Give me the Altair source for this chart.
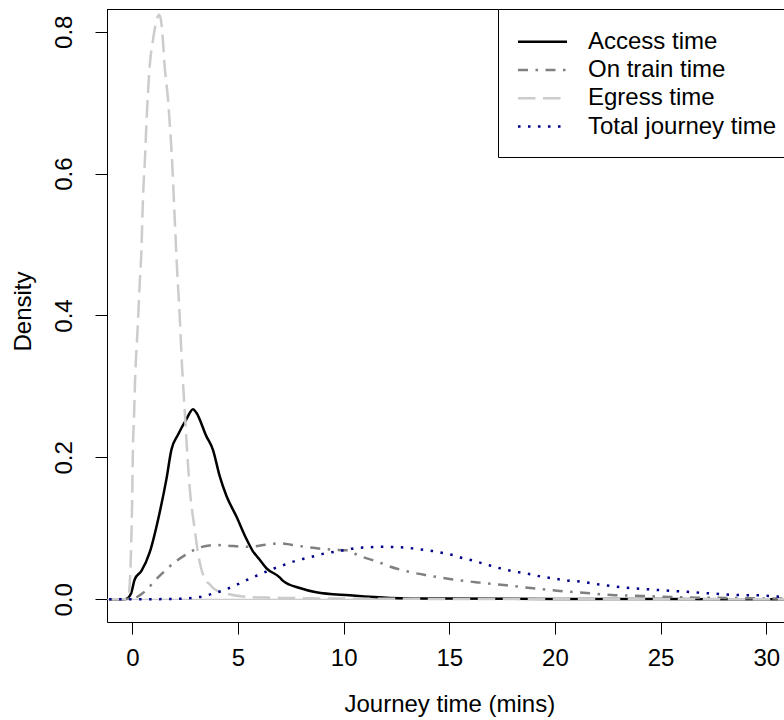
import altair as alt
import pandas as pd

# ---- data (density curves) ----
access_x = [-1.1, -0.36, -0.2, -0.05, 0.11, 0.43, 0.82, 1.29, 1.61, 1.85, 2.16, 2.56, 2.87, 3.03,
            3.5, 3.81, 4.13, 4.45, 4.92, 5.4, 5.7, 6.02, 6.34, 6.97, 7.13, 7.92, 8.7, 10.28, 12.2,
            15.0, 20.0, 25.0, 31.0]
access_y = [0.0, 0.0, 0.002, 0.009, 0.028, 0.04, 0.066, 0.122, 0.169, 0.211, 0.232, 0.254, 0.268, 0.263,
            0.23, 0.211, 0.174, 0.146, 0.117, 0.085, 0.068, 0.056, 0.044, 0.031, 0.026, 0.016, 0.010, 0.0056, 0.002,
            0.001, 0.0005, 0.0003, 0.0002]

train_x = [-1.1, -0.3, 0.11, 0.5, 1.29, 2.08, 2.71, 3.18, 3.98, 4.76, 5.55, 6.34, 6.97, 7.5, 8.39,
           9.49, 10.13, 10.76, 11.7, 12.02, 12.65, 13.28, 13.91, 15.17, 16.44, 17.7, 18.96, 20.22,
           21.49, 22.7, 24.15, 25.4, 26.7, 28.1, 29.4, 31.0]
train_y = [0.0, 0.0005, 0.002, 0.009, 0.033, 0.054, 0.066, 0.073, 0.0765, 0.075, 0.074, 0.077, 0.079, 0.077, 0.073,
           0.070, 0.069, 0.061, 0.052, 0.048, 0.042, 0.0375, 0.034, 0.028, 0.0235, 0.0197, 0.0155, 0.0117,
           0.0089, 0.006, 0.0047, 0.0033, 0.0023, 0.0019, 0.0014, 0.001]

egress_x = [-1.1, -0.3, -0.2, -0.13, -0.08, -0.02, 0.03, 0.08, 0.13, 0.24, 0.35, 0.43, 0.5, 0.61, 0.66,
            0.74, 0.82, 0.98, 1.1, 1.26, 1.35, 1.42, 1.53, 1.69, 1.8, 1.86, 2.0, 2.11, 2.24, 2.35, 2.45,
            2.6, 2.72, 2.85, 2.95, 3.1, 3.27, 3.5, 3.66, 3.9, 4.45, 5.23, 6.34, 7.13, 10.0, 20.0, 31.0]
egress_y = [0.0, 0.0, 0.002, 0.019, 0.052, 0.122, 0.216, 0.258, 0.31, 0.376, 0.446, 0.493, 0.563, 0.629, 0.667,
            0.714, 0.751, 0.789, 0.81, 0.824, 0.817, 0.798, 0.751, 0.704, 0.657, 0.629, 0.54, 0.469, 0.4, 0.329, 0.28,
            0.205, 0.155, 0.12, 0.099, 0.066, 0.042, 0.026, 0.021, 0.014, 0.008, 0.004, 0.0024, 0.002, 0.001, 0.0003, 0.0001]

total_x = [-1.1, -0.36, 2.0, 2.4, 2.95, 3.42, 3.81, 4.29, 4.76, 5.16, 5.55, 6.02, 6.42, 6.89, 7.32, 7.76,
           8.23, 8.7, 9.15, 9.59, 10.06, 10.53, 11.0, 11.47, 11.94, 12.41, 12.9, 13.36, 13.83, 14.3,
           14.75, 15.2, 15.65, 16.12, 16.56, 17.0, 17.48, 17.95, 18.4, 18.9, 19.34, 19.78, 20.24, 20.7,
           21.17, 22.08, 23.03, 23.98, 24.92, 25.85, 26.8, 27.75, 28.66, 29.6, 30.55, 31.2]
total_y = [0.0, 0.0, 0.0005, 0.001, 0.0024, 0.0045, 0.008, 0.0125, 0.018, 0.0235, 0.029, 0.035, 0.04, 0.0455, 0.05, 0.0545,
           0.058, 0.0615, 0.065, 0.067, 0.0695, 0.072, 0.073, 0.0737, 0.074, 0.0737, 0.073, 0.0714, 0.0695, 0.0676,
           0.065, 0.062, 0.058, 0.0545, 0.0507, 0.047, 0.043, 0.040, 0.0375, 0.035, 0.032, 0.030, 0.028, 0.026,
           0.025, 0.021, 0.0173, 0.015, 0.013, 0.0113, 0.0094, 0.0075, 0.006, 0.0056, 0.0038, 0.003]

series_names = ["Access time", "On train time", "Egress time", "Total journey time"]
x_ticks = [0, 5, 10, 15, 20, 25, 30]
y_ticks = [0.0, 0.2, 0.4, 0.6, 0.8]

# ---- layout ----
FONT = "Liberation Sans"
FS = 24
PX_PER_X = 21.13
W, H = 677, 613
X_MIN = -1.2
X_MAX = X_MIN + W / PX_PER_X
Y_DOM = [-0.032, 0.832]

styles = [
    dict(color="#000000", dash=None),
    dict(color="#808080", dash=[10, 7.5, 2.5, 7.5]),
    dict(color="#CCCCCC", dash=[17.5, 7.5]),
    dict(color="#00008B", dash=[2.5, 7.5]),
]
curves = [(access_x, access_y), (train_x, train_y), (egress_x, egress_y), (total_x, total_y)]

xscale = alt.Scale(domain=[X_MIN, X_MAX], nice=False, zero=False)
yscale = alt.Scale(domain=Y_DOM, nice=False, zero=False)

x_axis = alt.Axis(values=x_ticks, format="d", grid=False, labelFont=FONT, labelFontSize=FS,
                  labelColor="black", tickColor="black", tickSize=12, tickWidth=1,
                  domainColor="black", domainWidth=1, labelPadding=31, labelBaseline="alphabetic",
                  labelFlush=False, labelOverlap=False,
                  title="Journey time (mins)", titleFont=FONT, titleFontSize=FS,
                  titleFontWeight="normal", titleColor="black", titleX=342.3, titleY=89,
                  titleBaseline="alphabetic", titleAlign="center")
y_axis = alt.Axis(values=y_ticks, format=".1f", grid=False, labelFont=FONT, labelFontSize=FS,
                  labelColor="black", tickColor="black", tickSize=12, tickWidth=1,
                  domainColor="black", domainWidth=1, labelAngle=270, labelAlign="center",
                  labelBaseline="alphabetic", labelPadding=24, labelFlush=False, labelOverlap=False,
                  title="Density", titleFont=FONT, titleFontSize=FS, titleFontWeight="normal",
                  titleColor="black", titleAngle=270, titleX=-77, titleY=302,
                  titleBaseline="alphabetic", titleAlign="center")

dummy = pd.DataFrame({"v": [0]})

zero_line = alt.Chart(dummy).mark_rule(color="#BEBEBE", strokeWidth=1).encode(
    y=alt.datum(0, scale=yscale, axis=y_axis),
    x=alt.value(0), x2=alt.value(W))

layers = [zero_line]
for i, ((xs, ys), st) in enumerate(zip(curves, styles)):
    df = pd.DataFrame({"x": xs, "y": ys})
    kw = dict(color=st["color"], strokeWidth=2.5, clip=True, interpolate="monotone", strokeCap="butt")
    if st["dash"]:
        kw["strokeDash"] = st["dash"]
    layers.append(alt.Chart(df).mark_line(**kw).encode(
        x=alt.X("x:Q", scale=xscale, axis=x_axis),
        y=alt.Y("y:Q", scale=yscale, axis=y_axis),
    ))

# top border of the plot box
layers.append(alt.Chart(dummy).mark_rule(color="black", strokeWidth=1).encode(
    x=alt.value(0), x2=alt.value(W), y=alt.value(0.5)))

# legend (box anchored at top right, like R's legend("topright"))
LEG_LEFT = 391.5
layers.append(alt.Chart(dummy).mark_rect(fill="white", stroke="black", strokeWidth=1).encode(
    x=alt.value(LEG_LEFT), x2=alt.value(W + 40), y=alt.value(0.5), y2=alt.value(148.5)))
row0, row_step = 32.7, 28.3
for i, (name, st) in enumerate(zip(series_names, styles)):
    ry = row0 + i * row_step
    kw = dict(color=st["color"], strokeWidth=2.5, strokeCap="butt")
    if st["dash"]:
        kw["strokeDash"] = st["dash"]
    layers.append(alt.Chart(dummy).mark_rule(**kw).encode(
        x=alt.value(411), x2=alt.value(460), y=alt.value(ry)))
    layers.append(alt.Chart(pd.DataFrame({"label": [name]})).mark_text(
        font=FONT, fontSize=FS, color="black", align="left", baseline="middle").encode(
        x=alt.value(481), y=alt.value(ry), text="label:N"))

chart = alt.layer(*layers).properties(
    width=W, height=H,
    autosize=alt.AutoSizeParams(type="none"),
    padding={"left": 107, "top": 9, "right": 0, "bottom": 98},
    background="white",
).configure_view(strokeWidth=0)

chart.save("out.html", embed_options={"renderer": "svg", "actions": False})
